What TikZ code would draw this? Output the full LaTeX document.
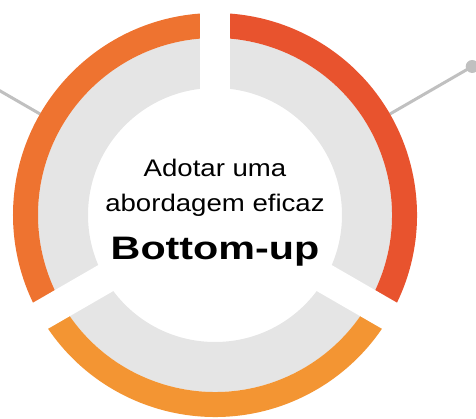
\documentclass[tikz,border=0pt]{standalone}
\usepackage{fontspec}
\setmainfont{Liberation Sans}
\newfontfamily\linefont[FakeStretch=1.15]{Liberation Sans}
\newfontfamily\headfont[FakeStretch=1.27]{Liberation Sans}
\definecolor{segLeft}{RGB}{238,115,48}
\definecolor{segRight}{RGB}{232,83,46}
\definecolor{segBottom}{RGB}{243,149,51}
\definecolor{ringGray}{RGB}{229,229,229}
\definecolor{linkGray}{RGB}{192,192,192}
\begin{document}
\begin{tikzpicture}[x=1pt,y=1pt,
    band/.style={line width=25pt},
    link/.style={line width=3pt, linkGray}]
    \useasboundingbox (-215,-204) rectangle (261,215);
    \coordinate (O) at (0,0);
    \coordinate (L) at (150:202);
    \coordinate (Lend) at (150:265);
    \coordinate (R) at (30:202);
    \coordinate (Rdot) at (30:297);
    % connectors
    \draw [link] (L) -- (Lend);
    \draw [link] (R) -- (Rdot);
    \fill [linkGray] (Rdot) circle (6.5);
    % rings
    \draw [line width=50pt, ringGray] (O) circle (152);
    \draw [band, segLeft]   (90:189.5)  arc (90:210:189.5);
    \draw [band, segBottom] (210:189.5) arc (210:330:189.5);
    \draw [band, segRight]  (330:189.5) arc (330:450:189.5);
    % gaps
    \draw [line width=30pt, white] (O) -- (90:215);
    \draw [line width=30pt, white] (O) -- (210:215);
    \draw [line width=30pt, white] (O) -- (330:215);
    % text
    \node [anchor=base, inner sep=0pt, font=\linefont\fontsize{24}{24}\selectfont] (t1) at (0,38) {Adotar uma};
    \node [anchor=base, inner sep=0pt, font=\linefont\fontsize{24}{24}\selectfont] (t2) at (0,3) {abordagem eficaz};
    \node [anchor=base, inner sep=0pt, font=\headfont\bfseries\fontsize{32.5}{32.5}\selectfont] (t3) at (0,-45) {Bottom-up};
\end{tikzpicture}
\end{document}
